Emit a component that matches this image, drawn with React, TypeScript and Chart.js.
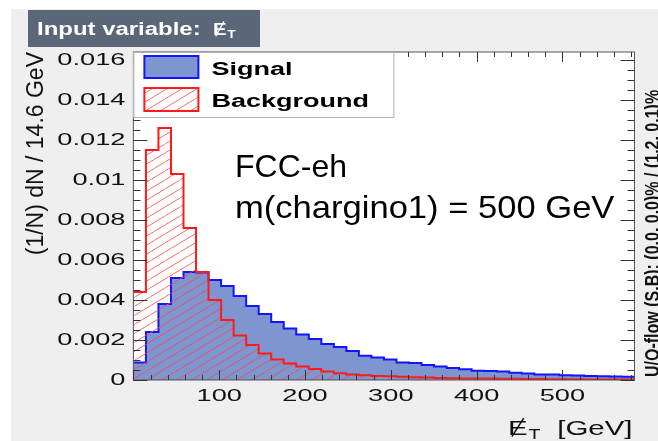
import React, { useEffect, useRef } from 'react';
import { Chart, registerables } from 'chart.js';

Chart.register(...registerables);

// ---- data ----
const binWidth = 14.6; // GeV
const xMin = 0;
const nBins = 40;

const signalValues = [
  0.00087, 0.0024, 0.0038, 0.0051, 0.0054, 0.00537, 0.005, 0.0047, 0.0042, 0.0037,
  0.0033, 0.0029, 0.00257, 0.00227, 0.00205, 0.0018, 0.00165, 0.00145, 0.00121, 0.00112,
  0.00103, 0.00087, 0.00085, 0.00075, 0.00067, 0.0006, 0.00054, 0.00046, 0.00045, 0.00043,
  0.00036, 0.00033, 0.00028, 0.00027, 0.00024, 0.00022, 0.0002, 0.00019, 0.00017, 0.00016,
];

const backgroundValues = [
  0.0044, 0.0115, 0.0126, 0.0103, 0.0076, 0.0054, 0.004, 0.003, 0.00222, 0.00175,
  0.00133, 0.00103, 0.00083, 0.00068, 0.00055, 0.00043, 0.00034, 0.00028, 0.00024, 0.0002,
  0.00019, 0.00016, 0.00014, 0.00012, 0.0001, 0.00009, 0.00008, 0.00008, 0.00007, 0.00006,
  0.00006, 0.00005, 0.00005, 0.00004, 0.00004, 0.00004, 0.00003, 0.00003, 0.00003, 0.00003,
];

const xTickLabels = [100, 200, 300, 400, 500];
const yTickValues = [0, 0.002, 0.004, 0.006, 0.008, 0.01, 0.012, 0.014, 0.016];
const yTickLabels = ['0', '0.002', '0.004', '0.006', '0.008', '0.01', '0.012', '0.014', '0.016'];

const legendLabels = ['Signal', 'Background'];
const yTitle = '(1/N) dN / 14.6 GeV';
const overflowText = 'U/O-flow (S,B): (0.0, 0.0)% / (1.2, 0.1)%';
const annotationLines = ['FCC-eh', 'm(chargino1) = 500 GeV'];

const BLUE_FILL = '#7d96cf';
const BLUE_LINE = '#1414ff';
const RED_LINE = '#ff1a1a';
const FONT = '"Liberation Sans", Arial, Helvetica, sans-serif';

function toSteps(values: number[]) {
  const pts = values.map((v, i) => ({ x: xMin + i * binWidth, y: v }));
  pts.push({ x: xMin + values.length * binWidth, y: values[values.length - 1] });
  return pts;
}

function makeHatch(): CanvasPattern | string {
  const c = document.createElement('canvas');
  const w = 15, h = 9;
  c.width = w; c.height = h;
  const g = c.getContext('2d');
  if (!g) return 'rgba(255,0,0,0.2)';
  g.strokeStyle = 'rgba(255,70,70,0.8)';
  g.lineWidth = 1;
  g.beginPath();
  g.moveTo(-w, 2 * h);
  g.lineTo(2 * w, -h);
  g.stroke();
  const p = g.createPattern(c, 'repeat');
  return p || 'rgba(255,0,0,0.2)';
}

function sText(ctx: CanvasRenderingContext2D, text: string, x: number, y: number, sx: number, align: CanvasTextAlign) {
  ctx.save();
  ctx.translate(x, y);
  ctx.scale(sx, 1);
  ctx.textAlign = align;
  ctx.fillText(text, 0, 0);
  ctx.restore();
}

function drawMet(ctx: CanvasRenderingContext2D, x: number, baseline: number, size: number, sx: number, color: string, bold: boolean) {
  ctx.save();
  ctx.fillStyle = color;
  ctx.strokeStyle = color;
  ctx.textBaseline = 'alphabetic';
  ctx.font = `${bold ? 'bold ' : ''}${size}px ${FONT}`;
  const ew = ctx.measureText('E').width * sx;
  sText(ctx, 'E', x, baseline, sx, 'left');
  const cap = size * 0.72;
  ctx.lineWidth = Math.max(1, size / 14);
  ctx.beginPath();
  ctx.moveTo(x + ew * 0.2, baseline + size * 0.08);
  ctx.lineTo(x + ew * 0.8, baseline - cap - size * 0.08);
  ctx.stroke();
  ctx.font = `${bold ? 'bold ' : ''}${Math.round(size * 0.65)}px ${FONT}`;
  sText(ctx, 'T', x + ew + 1, baseline + size * 0.18, sx, 'left');
  ctx.restore();
}

let hatch: any = 'rgba(255,0,0,0.2)';

const decorPlugin = {
  id: 'decor',
  beforeDraw(chart: any) {
    const { ctx, chartArea: a, width, height } = chart;
    ctx.save();
    ctx.fillStyle = '#ffffff';
    ctx.fillRect(0, 0, width, height);
    ctx.fillStyle = '#efefef';
    ctx.fillRect(11, 9, width - 11, height - 9);
    ctx.fillStyle = '#ffffff';
    ctx.fillRect(a.left, a.top, a.right - a.left, a.bottom - a.top);
    ctx.restore();
  },
  afterDraw(chart: any) {
    const { ctx, chartArea: a, scales } = chart;
    const xs = scales.x, ys = scales.y;
    ctx.save();

    // frame
    ctx.strokeStyle = '#555';
    ctx.lineWidth = 1;
    ctx.strokeRect(a.left, a.top, a.right - a.left, a.bottom - a.top);

    // ticks (inside, all four sides)
    ctx.strokeStyle = '#333';
    ctx.beginPath();
    for (let k = 0; k * 20 <= xs.max + 0.001; k++) {
      const v = k * 20;
      const px = Math.round(xs.getPixelForValue(v)) + 0.5;
      const len = k % 5 === 0 ? 10 : 5;
      ctx.moveTo(px, a.bottom); ctx.lineTo(px, a.bottom - len);
      ctx.moveTo(px, a.top); ctx.lineTo(px, a.top + len);
    }
    for (let k = 0; k * 0.0005 <= ys.max + 1e-9; k++) {
      const v = k * 0.0005;
      const py = Math.round(ys.getPixelForValue(v)) + 0.5;
      const len = k % 4 === 0 ? 14 : 7;
      ctx.moveTo(a.left, py); ctx.lineTo(a.left + len, py);
      ctx.moveTo(a.right, py); ctx.lineTo(a.right - len, py);
    }
    ctx.stroke();

    // tick labels
    ctx.fillStyle = '#111';
    ctx.font = `17px ${FONT}`;
    ctx.textBaseline = 'middle';
    yTickValues.forEach((v, i) => {
      sText(ctx, yTickLabels[i], a.left - 8, ys.getPixelForValue(v), 1.6, 'right');
    });
    ctx.textBaseline = 'alphabetic';
    xTickLabels.forEach((v) => {
      sText(ctx, String(v), xs.getPixelForValue(v), a.bottom + 21, 1.6, 'center');
    });

    // x title
    ctx.font = `21px ${FONT}`;
    sText(ctx, '[GeV]', a.right - 2, 435, 1.4, 'right');
    drawMet(ctx, 508, 435, 21, 1.4, '#111', false);

    // y title
    ctx.save();
    ctx.font = `23px ${FONT}`;
    ctx.translate(43, a.top);
    ctx.rotate(-Math.PI / 2);
    ctx.textAlign = 'right';
    ctx.textBaseline = 'alphabetic';
    ctx.fillText(yTitle, 0, 0);
    ctx.restore();

    // overflow text (right side)
    ctx.save();
    ctx.font = `bold 16px ${FONT}`;
    ctx.translate(659, 377);
    ctx.scale(1.3, 1);
    ctx.rotate(-Math.PI / 2);
    ctx.textAlign = 'left';
    ctx.textBaseline = 'alphabetic';
    ctx.fillText(overflowText, 0, 0);
    ctx.restore();

    // legend
    const lx = a.left, ly = a.top;
    ctx.fillStyle = '#ffffff';
    ctx.fillRect(lx, ly, 260, 65);
    ctx.strokeStyle = '#b0b0b0';
    ctx.lineWidth = 1;
    ctx.strokeRect(lx + 0.5, ly + 0.5, 260, 65);
    ctx.lineWidth = 2;
    ctx.fillStyle = BLUE_FILL;
    ctx.fillRect(lx + 11, ly + 4, 54, 22);
    ctx.strokeStyle = BLUE_LINE;
    ctx.strokeRect(lx + 11, ly + 4, 54, 22);
    ctx.fillStyle = hatch;
    ctx.fillRect(lx + 11, ly + 36, 54, 23);
    ctx.strokeStyle = RED_LINE;
    ctx.strokeRect(lx + 11, ly + 36, 54, 23);
    ctx.fillStyle = '#000';
    ctx.font = `bold 18px ${FONT}`;
    sText(ctx, legendLabels[0], lx + 78, ly + 23, 1.5, 'left');
    sText(ctx, legendLabels[1], lx + 78, ly + 55, 1.5, 'left');

    // annotation
    ctx.font = `32px ${FONT}`;
    ctx.fillStyle = '#000';
    sText(ctx, annotationLines[0], 235, 177, 1.0, 'left');
    sText(ctx, annotationLines[1], 235, 218, 1.08, 'left');

    // banner
    ctx.fillStyle = '#5b6779';
    ctx.fillRect(28, 10, 232, 37);
    ctx.fillStyle = '#ffffff';
    ctx.font = `bold 18px ${FONT}`;
    sText(ctx, 'Input variable:', 37, 35, 1.33, 'left');
    drawMet(ctx, 213, 35, 17, 1.2, '#ffffff', true);

    ctx.restore();
  },
};

export default function App() {
  const ref = useRef<HTMLCanvasElement | null>(null);
  useEffect(() => {
    if (!ref.current) return;
    hatch = makeHatch();
    const chart = new Chart(ref.current, {
      type: 'line',
      data: {
        datasets: [
          {
            label: legendLabels[1],
            data: toSteps(backgroundValues),
            stepped: 'before',
            fill: 'origin',
            backgroundColor: hatch,
            borderColor: RED_LINE,
            borderWidth: 2,
            pointRadius: 0,
          },
          {
            label: legendLabels[0],
            data: toSteps(signalValues),
            stepped: 'before',
            fill: 'origin',
            backgroundColor: BLUE_FILL,
            borderColor: BLUE_LINE,
            borderWidth: 2,
            pointRadius: 0,
          },
        ],
      },
      options: {
        animation: false,
        responsive: true,
        maintainAspectRatio: false,
        layout: { padding: { top: 52, right: 23.5, left: 0, bottom: 0 } },
        plugins: { legend: { display: false }, tooltip: { enabled: false } },
        scales: {
          x: {
            type: 'linear',
            min: xMin,
            max: xMin + nBins * binWidth,
            grid: { display: false },
            border: { display: false },
            ticks: { display: false },
            afterFit: (s: any) => { s.height = 61; },
          },
          y: {
            type: 'linear',
            min: 0,
            max: 0.0164,
            grid: { display: false },
            border: { display: false },
            ticks: { display: false },
            afterFit: (s: any) => { s.width = 133.4; },
          },
        },
      },
      plugins: [decorPlugin],
    } as any);
    return () => chart.destroy();
  }, []);
  return (
    <div style={{ position: 'fixed', left: 0, top: 0, width: 658, height: 441 }}>
      <canvas ref={ref} />
    </div>
  );
}
